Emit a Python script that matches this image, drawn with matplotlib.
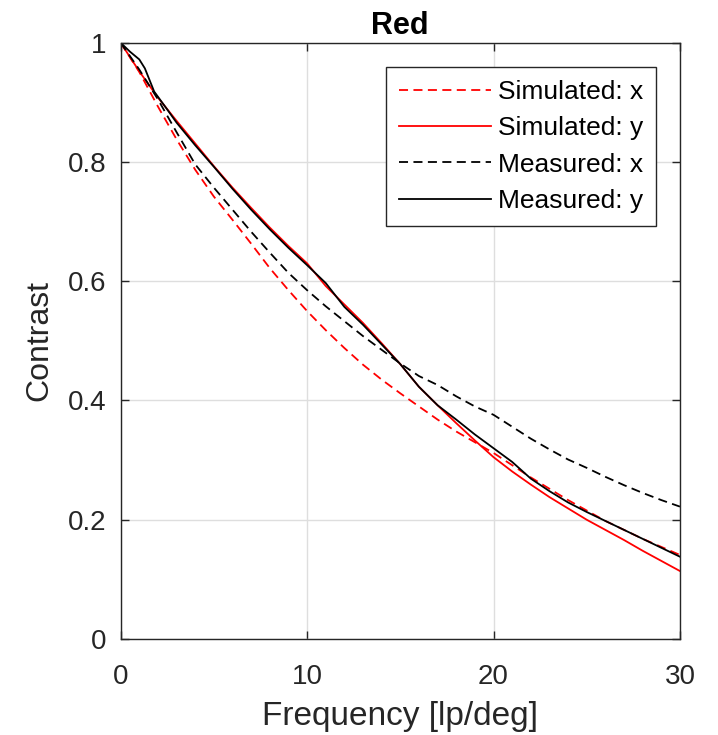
import matplotlib
matplotlib.use("Agg")
import matplotlib.pyplot as plt

plt.rcParams['font.family'] = ['Liberation Sans', 'DejaVu Sans']

# Spatial frequency samples [lp/deg]
freq_sim_x = [0, 1, 2, 3, 4, 5, 6, 7, 8, 9, 10, 11, 12, 13, 14, 15, 16, 17, 18, 19,
              20, 22, 24, 26, 28, 30]
contrast_sim_x = [1.0, 0.951, 0.893, 0.838, 0.787, 0.742, 0.703, 0.663, 0.622, 0.585,
                  0.550, 0.518, 0.488, 0.460, 0.435, 0.412, 0.390, 0.368, 0.348, 0.330,
                  0.312, 0.271, 0.233, 0.198, 0.168, 0.141]

freq_sim_y = [0, 1, 2, 3, 4, 5, 6, 7, 8, 9, 10, 11, 12, 13, 14, 15, 16, 17, 18, 19,
              20, 21, 22, 23, 24, 25, 26, 27, 28, 29, 30]
contrast_sim_y = [1.0, 0.952, 0.908, 0.869, 0.831, 0.793, 0.757, 0.723, 0.690, 0.659,
                  0.630, 0.592, 0.561, 0.530, 0.496, 0.461, 0.423, 0.392, 0.362, 0.333,
                  0.305, 0.281, 0.259, 0.238, 0.219, 0.200, 0.183, 0.166, 0.148, 0.131,
                  0.114]

freq_meas_x = [0, 1, 2, 3, 4, 5, 6, 7, 8, 9, 10, 11, 12, 13, 14, 15, 16, 17, 18, 19,
               20, 21, 22, 23, 24, 25, 26, 27, 28, 29, 30]
contrast_meas_x = [1.0, 0.955, 0.905, 0.850, 0.796, 0.757, 0.720, 0.683, 0.648, 0.614,
                   0.585, 0.558, 0.533, 0.508, 0.485, 0.462, 0.441, 0.426, 0.407, 0.390,
                   0.376, 0.356, 0.336, 0.318, 0.301, 0.287, 0.272, 0.258, 0.245, 0.233,
                   0.222]

freq_meas_y = [0, 0.5, 1.0, 1.3, 1.8, 2.5, 3, 4, 5, 6, 7, 8, 9, 10, 11, 12, 13, 14, 15,
               16, 17, 18, 19, 20, 21, 22, 23, 24, 25, 26, 27, 28, 29, 30]
contrast_meas_y = [1.0, 0.985, 0.972, 0.957, 0.918, 0.888, 0.866, 0.828, 0.792, 0.755,
                   0.720, 0.687, 0.656, 0.627, 0.597, 0.557, 0.527, 0.494, 0.461, 0.423,
                   0.392, 0.368, 0.343, 0.320, 0.297, 0.269, 0.248, 0.229, 0.213, 0.198,
                   0.183, 0.168, 0.153, 0.138]

x_ticks = [0, 10, 20, 30]
y_ticks = [0, 0.2, 0.4, 0.6, 0.8, 1.0]
y_tick_labels = ['0', '0.2', '0.4', '0.6', '0.8', '1']

dark = '#262626'

fig = plt.figure(figsize=(7.18, 7.35), dpi=100)
ax = fig.add_axes([0.168, 0.1306, 0.779, 0.8113])

dash = (0, (5, 3))
ax.plot(freq_sim_x, contrast_sim_x, color='#ff0000', lw=1.3, linestyle=dash, label='Simulated: x')
ax.plot(freq_sim_y, contrast_sim_y, color='#ff0000', lw=1.3, label='Simulated: y')
ax.plot(freq_meas_x, contrast_meas_x, color='black', lw=1.3, linestyle=dash, label='Measured: x')
ax.plot(freq_meas_y, contrast_meas_y, color='black', lw=1.3, label='Measured: y')

ax.set_xlim(0, 30)
ax.set_ylim(0, 1)
ax.set_xticks(x_ticks)
ax.set_yticks(y_ticks)
ax.set_yticklabels(y_tick_labels)
ax.grid(True, color='#dedede', lw=1.0)
ax.set_axisbelow(True)

ax.tick_params(direction='in', top=True, right=True, length=6, width=1.0,
               color=dark, labelcolor=dark, labelsize=20)
ax.tick_params(axis='y', pad=10)
ax.tick_params(axis='x', pad=18)
for s in ax.spines.values():
    s.set_color(dark)
    s.set_linewidth(1.0)

ax.set_xlabel('Frequency [lp/deg]', fontsize=24, color=dark, labelpad=8)
ax.set_ylabel('Contrast', fontsize=23, color=dark, labelpad=10)
ax.set_title('Red', fontsize=22, fontweight='bold', color='black', pad=6)

leg = ax.legend(loc='upper right', bbox_to_anchor=(0.958, 0.960), borderaxespad=0,
                fontsize=19, handlelength=3.5, handletextpad=0.25, labelspacing=0.47,
                fancybox=False, framealpha=1, edgecolor=dark, borderpad=0.5)
leg.get_frame().set_linewidth(1.0)
for t in leg.get_texts():
    t.set_color('black')

fig.savefig('out.png', dpi=100)
